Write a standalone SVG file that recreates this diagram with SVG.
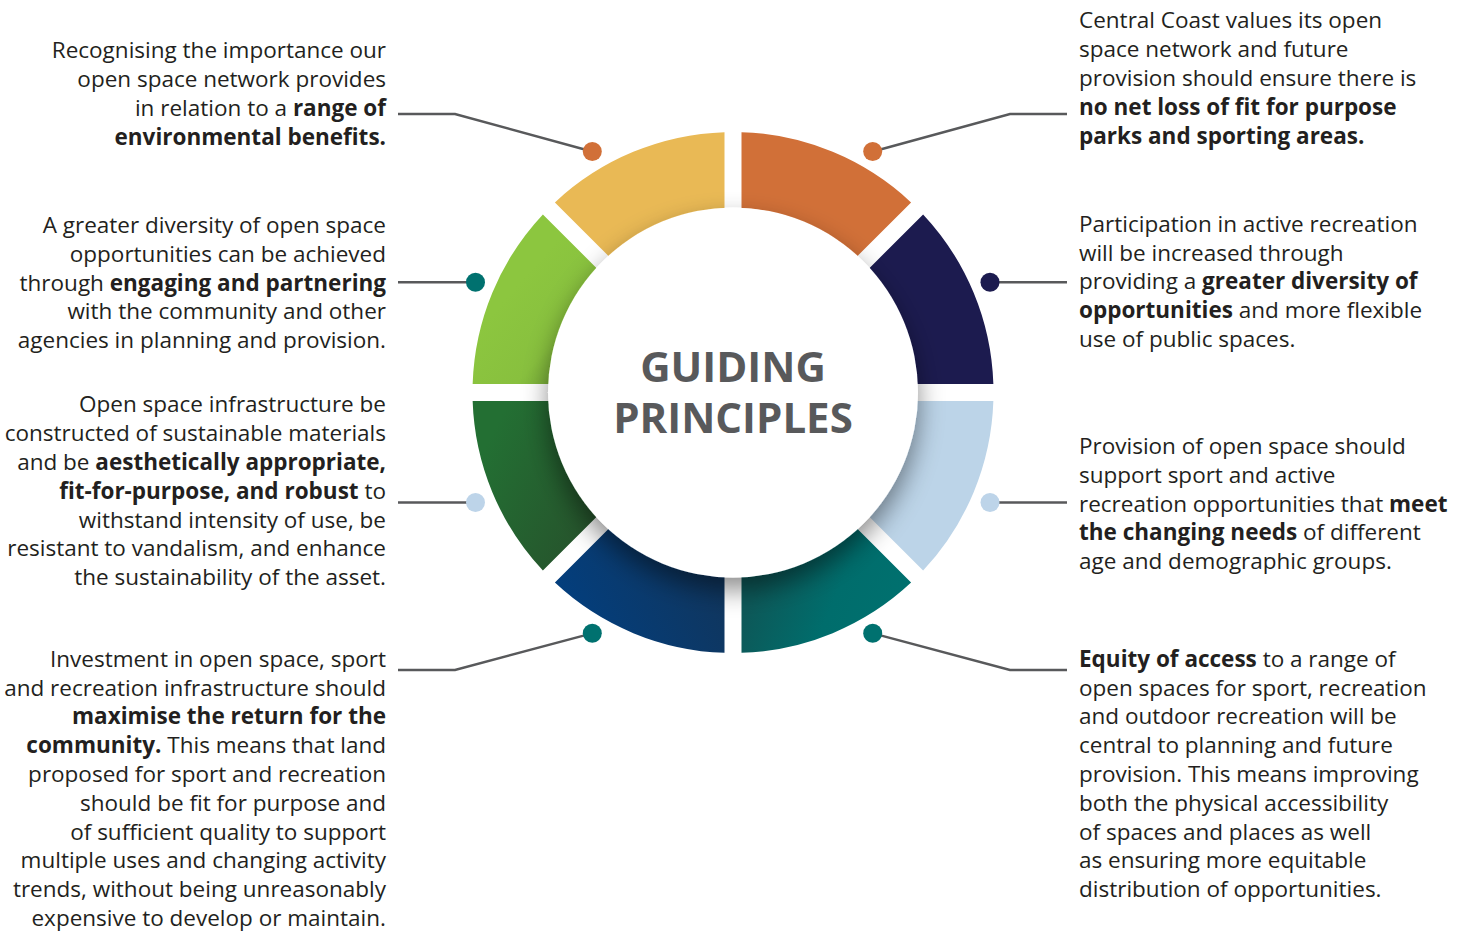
<svg xmlns="http://www.w3.org/2000/svg" width="1467" height="931" viewBox="0 0 1467 931">
  <style>
    .txt { font-family: "Open Sans", "Noto Sans", "Liberation Sans", sans-serif; font-size: 22.5px; fill: #231F20; }
    .b { font-weight: 700; }
    .l { text-anchor: end; }
    .title { font-family: "Open Sans", "Noto Sans", "Liberation Sans", sans-serif; font-weight: 700; font-size: 42px; fill: #58595B; text-anchor: middle; }
    .conn { fill: none; stroke: #58595B; stroke-width: 2.4; }
  </style>
  <defs>
    <linearGradient id="gDarkBlue" gradientUnits="userSpaceOnUse" x1="-170" y1="240" x2="-30" y2="170">
      <stop offset="0" stop-color="#023F80"/>
      <stop offset="1" stop-color="#0F365F"/>
    </linearGradient>
    <linearGradient id="gTeal" gradientUnits="userSpaceOnUse" x1="170" y1="240" x2="30" y2="180">
      <stop offset="0" stop-color="#00716F"/>
      <stop offset="0.5" stop-color="#006D6C"/>
      <stop offset="1" stop-color="#0D5858"/>
    </linearGradient>
    <linearGradient id="gDarkGreen" gradientUnits="userSpaceOnUse" x1="-250" y1="60" x2="-130" y2="120">
      <stop offset="0" stop-color="#236F33"/>
      <stop offset="1" stop-color="#26532C"/>
    </linearGradient>
    <linearGradient id="gLightGreen" gradientUnits="userSpaceOnUse" x1="-240" y1="-80" x2="-160" y2="-10">
      <stop offset="0" stop-color="#8CC63F"/>
      <stop offset="0.6" stop-color="#88C03E"/>
      <stop offset="1" stop-color="#72A537"/>
    </linearGradient>
    <filter id="circleShadow" x="-30%" y="-30%" width="160%" height="160%">
      <feDropShadow dx="0" dy="12" stdDeviation="13" flood-color="#000000" flood-opacity="0.45"/>
    </filter>
  </defs>

  <!-- ring of eight principle segments, centred on the hub -->
  <g id="ring" transform="translate(733 392.5)">
    <path id="seg-orange" fill="#D17038" d="M8.5 -260.36 A260.5 260.5 0 0 1 178.09 -190.11 L124.31 -136.33 A184.5 184.5 0 0 0 8.5 -184.3 Z"/>
    <path id="seg-navy" fill="#1C1B4F" d="M190.11 -178.09 A260.5 260.5 0 0 1 260.36 -8.5 L184.3 -8.5 A184.5 184.5 0 0 0 136.33 -124.31 Z"/>
    <path id="seg-lightblue" fill="#BCD4E8" d="M260.36 8.5 A260.5 260.5 0 0 1 190.11 178.09 L136.33 124.31 A184.5 184.5 0 0 0 184.3 8.5 Z"/>
    <path id="seg-teal" fill="url(#gTeal)" d="M178.09 190.11 A260.5 260.5 0 0 1 8.5 260.36 L8.5 184.3 A184.5 184.5 0 0 0 124.31 136.33 Z"/>
    <path id="seg-darkblue" fill="url(#gDarkBlue)" d="M-8.5 260.36 A260.5 260.5 0 0 1 -178.09 190.11 L-124.31 136.33 A184.5 184.5 0 0 0 -8.5 184.3 Z"/>
    <path id="seg-darkgreen" fill="url(#gDarkGreen)" d="M-190.11 178.09 A260.5 260.5 0 0 1 -260.36 8.5 L-184.3 8.5 A184.5 184.5 0 0 0 -136.33 124.31 Z"/>
    <path id="seg-lightgreen" fill="url(#gLightGreen)" d="M-260.36 -8.5 A260.5 260.5 0 0 1 -190.11 -178.09 L-136.33 -124.31 A184.5 184.5 0 0 0 -184.3 -8.5 Z"/>
    <path id="seg-yellow" fill="#E9B955" d="M-178.09 -190.11 A260.5 260.5 0 0 1 -8.5 -260.36 L-8.5 -184.3 A184.5 184.5 0 0 0 -124.31 -136.33 Z"/>
  </g>

  <!-- central hub -->
  <g id="hub">
    <circle cx="733" cy="392.5" r="185" fill="#FFFFFF" filter="url(#circleShadow)"/>
    <text class="title"><tspan x="733" y="382">GUIDING</tspan><tspan x="733" y="433">PRINCIPLES</tspan></text>
  </g>

  <!-- leader lines from each marker to its statement -->
  <g id="connectors">
    <polyline class="conn" points="398,114 455,114 592,151.5"/>
    <polyline class="conn" points="873,151.5 1010,114 1067,114"/>
    <polyline class="conn" points="398,282.3 475.5,282.3"/>
    <polyline class="conn" points="990,282.3 1067,282.3"/>
    <polyline class="conn" points="398,502.5 475.5,502.5"/>
    <polyline class="conn" points="990,502.5 1067,502.5"/>
    <polyline class="conn" points="592,633.3 455,670 398,670"/>
    <polyline class="conn" points="873,633.3 1010,670 1067,670"/>
  </g>

  <!-- markers -->
  <g id="markers">
    <circle cx="592.3" cy="151.5" r="9.5" fill="#D17038"/>
    <circle cx="872.7" cy="151.5" r="9.5" fill="#D17038"/>
    <circle cx="475.5" cy="282.3" r="9.5" fill="#00716F"/>
    <circle cx="990" cy="282.3" r="9.5" fill="#1C1B4F"/>
    <circle cx="475.5" cy="502.5" r="9.5" fill="#BDD4E9"/>
    <circle cx="990" cy="502.5" r="9.5" fill="#BDD4E9"/>
    <circle cx="592.3" cy="633.3" r="9.5" fill="#00716F"/>
    <circle cx="872.7" cy="633.3" r="9.5" fill="#00716F"/>
  </g>

  <!-- statements, left column (tspans kept adjacent so no stray spaces shift the right edge) -->
  <g id="note-environment">
    <text class="txt l"><tspan x="386" y="58.3">Recognising the importance our</tspan><tspan x="386" y="87">open space network provides</tspan><tspan x="386" y="115.8">in relation to a <tspan class="b">range of</tspan></tspan><tspan x="386" y="144.5" class="b">environmental benefits.</tspan></text>
  </g>
  <g id="note-partnering">
    <text class="txt l"><tspan x="386" y="233">A greater diversity of open space</tspan><tspan x="386" y="261.8">opportunities can be achieved</tspan><tspan x="386" y="290.6">through <tspan class="b">engaging and partnering</tspan></tspan><tspan x="386" y="319.4">with the community and other</tspan><tspan x="386" y="348.2">agencies in planning and provision.</tspan></text>
  </g>
  <g id="note-materials">
    <text class="txt l"><tspan x="386" y="412.3">Open space infrastructure be</tspan><tspan x="386" y="441.1">constructed of sustainable materials</tspan><tspan x="386" y="469.9">and be <tspan class="b">aesthetically appropriate,</tspan></tspan><tspan x="386" y="498.7"><tspan class="b">fit-for-purpose, and robust</tspan> to</tspan><tspan x="386" y="527.5">withstand intensity of use, be</tspan><tspan x="386" y="556.3">resistant to vandalism, and enhance</tspan><tspan x="386" y="585.1">the sustainability of the asset.</tspan></text>
  </g>
  <g id="note-investment">
    <text class="txt l"><tspan x="386" y="666.7">Investment in open space, sport</tspan><tspan x="386" y="695.5">and recreation infrastructure should</tspan><tspan x="386" y="724.3" class="b">maximise the return for the</tspan><tspan x="386" y="753.1"><tspan class="b">community.</tspan> This means that land</tspan><tspan x="386" y="781.9">proposed for sport and recreation</tspan><tspan x="386" y="810.7">should be fit for purpose and</tspan><tspan x="386" y="839.5">of sufficient quality to support</tspan><tspan x="386" y="868.3">multiple uses and changing activity</tspan><tspan x="386" y="897.1">trends, without being unreasonably</tspan><tspan x="386" y="925.9">expensive to develop or maintain.</tspan></text>
  </g>

  <!-- statements, right column -->
  <g id="note-no-net-loss">
    <text class="txt"><tspan x="1079" y="28.3">Central Coast values its open</tspan><tspan x="1079" y="57.1">space network and future</tspan><tspan x="1079" y="85.9">provision should ensure there is</tspan><tspan x="1079" y="114.7" class="b">no net loss of fit for purpose</tspan><tspan x="1079" y="143.5" class="b">parks and sporting areas.</tspan></text>
  </g>
  <g id="note-participation">
    <text class="txt"><tspan x="1079" y="231.7">Participation in active recreation</tspan><tspan x="1079" y="260.5">will be increased through</tspan><tspan x="1079" y="289.3">providing a <tspan class="b">greater diversity of</tspan></tspan><tspan x="1079" y="318.1"><tspan class="b">opportunities</tspan> and more flexible</tspan><tspan x="1079" y="346.9">use of public spaces.</tspan></text>
  </g>
  <g id="note-changing-needs">
    <text class="txt"><tspan x="1079" y="454">Provision of open space should</tspan><tspan x="1079" y="482.8">support sport and active</tspan><tspan x="1079" y="511.6">recreation opportunities that <tspan class="b">meet</tspan></tspan><tspan x="1079" y="540.4"><tspan class="b">the changing needs</tspan> of different</tspan><tspan x="1079" y="569.2">age and demographic groups.</tspan></text>
  </g>
  <g id="note-equity">
    <text class="txt"><tspan x="1079" y="666.7"><tspan class="b">Equity of access</tspan> to a range of</tspan><tspan x="1079" y="695.5">open spaces for sport, recreation</tspan><tspan x="1079" y="724.3">and outdoor recreation will be</tspan><tspan x="1079" y="753.1">central to planning and future</tspan><tspan x="1079" y="781.9">provision. This means improving</tspan><tspan x="1079" y="810.7">both the physical accessibility</tspan><tspan x="1079" y="839.5">of spaces and places as well</tspan><tspan x="1079" y="868.3">as ensuring more equitable</tspan><tspan x="1079" y="897.1">distribution of opportunities.</tspan></text>
  </g>
</svg>
